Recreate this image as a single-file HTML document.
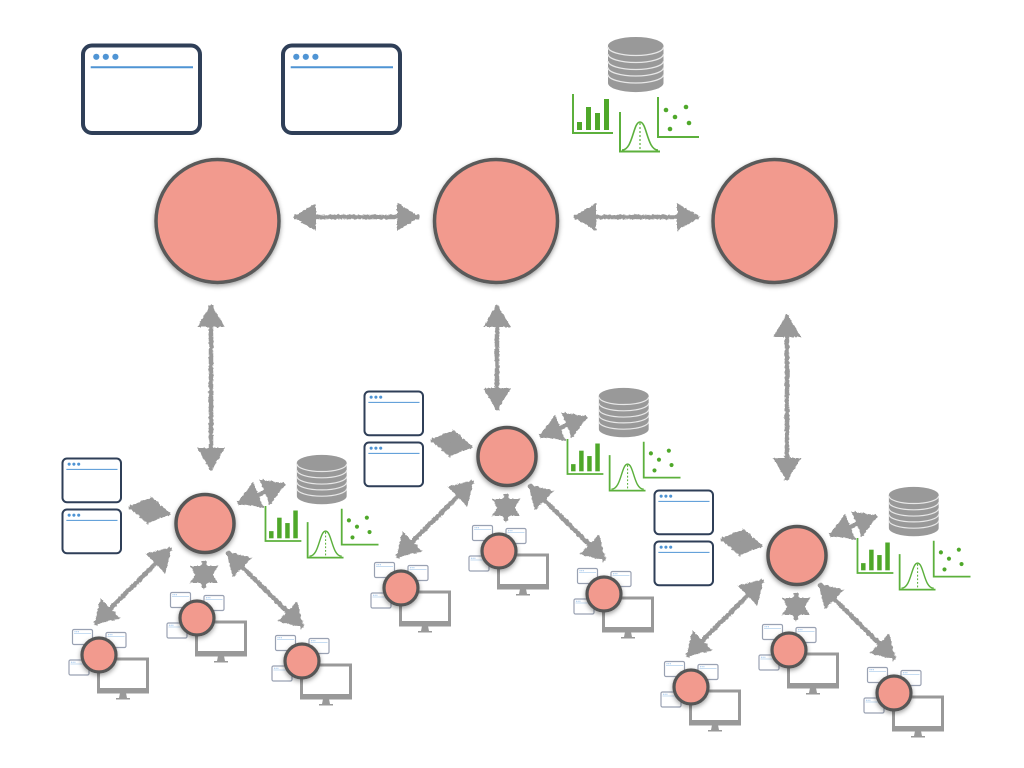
<!DOCTYPE html>
<html>
<head>
<meta charset="utf-8">
<title>Diagram</title>
<style>
html,body{margin:0;padding:0;background:#fff;width:1024px;height:768px;overflow:hidden}
svg{display:block}
</style>
</head>
<body>
<svg xmlns="http://www.w3.org/2000/svg" width="1024" height="768" viewBox="0 0 1024 768">
<defs>
  <filter id="rough" filterUnits="userSpaceOnUse" x="0" y="0" width="1024" height="768">
    <feTurbulence type="fractalNoise" baseFrequency="0.35" numOctaves="2" seed="4"/>
    <feDisplacementMap in="SourceGraphic" scale="3" xChannelSelector="R" yChannelSelector="G"/>
  </filter>
  <filter id="sh" x="-25%" y="-25%" width="150%" height="150%">
    <feDropShadow dx="0" dy="2" stdDeviation="2.500" flood-color="#000" flood-opacity="0.38"/>
  </filter>
  <marker id="head" markerUnits="userSpaceOnUse" markerWidth="34" markerHeight="34" viewBox="-4 -17 34 34" refX="21" refY="0" orient="auto-start-reverse">
    <path d="M-1,-14 L22,0 L-1,14 Z" fill="#999"/>
  </marker>

  <g id="win">
    <rect x="2" y="2" width="117" height="87.500" rx="9" fill="#fff" stroke="#2f3f58" stroke-width="4"/>
    <circle cx="15.300" cy="13.300" r="3.100" fill="#4f94d4"/>
    <circle cx="24.800" cy="13.300" r="3.100" fill="#4f94d4"/>
    <circle cx="34.400" cy="13.300" r="3.100" fill="#4f94d4"/>
    <line x1="9.700" y1="23.700" x2="112" y2="23.700" stroke="#4f94d4" stroke-width="2"/>
  </g>

  <g id="data">
    <path d="M608,46 V83 A27.500,9 0 0 0 663.500,83 V46 Z" fill="#999"/>
    <ellipse cx="635.700" cy="46" rx="27.800" ry="9" fill="#999"/>
    <g fill="none" stroke="#e8e8e8" stroke-width="1.300">
      <path d="M608,47 A27.700,8.500 0 0 0 663.500,47"/>
      <path d="M608,54 A27.700,8.500 0 0 0 663.500,54"/>
      <path d="M608,61 A27.700,8.500 0 0 0 663.500,61"/>
      <path d="M608,67.500 A27.700,8.500 0 0 0 663.500,67.500"/>
      <path d="M608,74.500 A27.700,8.500 0 0 0 663.500,74.500"/>
    </g>
    <g fill="none" stroke="#5cb03c" stroke-width="2">
      <path d="M573,94 V133 H613"/>
      <path d="M620,112 V151.500 H660"/>
      <path d="M658,97 V137 H699"/>
      <path d="M622,150 C633,150 633,122 640,122 C647,122 647,150 658,150" stroke-width="1.600"/>
      <line x1="640" y1="123" x2="640" y2="150" stroke-width="1.200" stroke-dasharray="2 2"/>
    </g>
    <g fill="#4fa82a">
      <rect x="577" y="122" width="5" height="8"/>
      <rect x="586" y="107" width="5" height="23"/>
      <rect x="595" y="113" width="5" height="17"/>
      <rect x="604" y="99" width="5" height="31"/>
      <circle cx="666" cy="110" r="2.300"/>
      <circle cx="675" cy="117" r="2.300"/>
      <circle cx="686" cy="107" r="2.300"/>
      <circle cx="689" cy="123" r="2.300"/>
      <circle cx="670" cy="129" r="2.300"/>
    </g>
  </g>

  <g id="miniwin">
    <rect x="0" y="0" width="20" height="15" rx="1.500" fill="#fff" stroke="#99a1b2" stroke-width="1.200"/>
    <line x1="1.500" y1="4" x2="18.500" y2="4" stroke="#b5d2ee" stroke-width="0.800"/>
    <circle cx="2.500" cy="2.200" r="0.600" fill="#a5c8ec"/>
    <circle cx="4.200" cy="2.200" r="0.600" fill="#a5c8ec"/>
    <circle cx="5.900" cy="2.200" r="0.600" fill="#a5c8ec"/>
  </g>

  <g id="client">
    <rect x="-0.500" y="4" width="49" height="31.500" fill="#fff" stroke="#999" stroke-width="3"/>
    <rect x="-2" y="33" width="52" height="5.500" fill="#999"/>
    <path d="M21,38 H27 L28,43 H31 V44.500 H17 V43 H20 Z" fill="#999"/>
    <use href="#miniwin" x="-26.500" y="-25.500"/>
    <use href="#miniwin" x="7" y="-22.500"/>
    <use href="#miniwin" x="-30" y="5"/>
    <circle cx="0" cy="0" r="17" fill="#f29a8e" stroke="#565656" stroke-width="3.200" filter="url(#sh)"/>
  </g>

  <g id="cluster">
    <use href="#win" transform="translate(61.500,457.500) scale(0.5)"/>
    <use href="#win" transform="translate(61.500,508.500) scale(0.5)"/>
    <use href="#data" transform="translate(-248.500,421.700) scale(0.897)"/>
    <use href="#client" x="99" y="655"/>
    <use href="#client" x="197" y="618"/>
    <use href="#client" x="302" y="661"/>
    <g filter="url(#rough)" stroke="#999" stroke-width="4.500" fill="none">
      <line x1="129" y1="507" x2="170" y2="514" marker-start="url(#head)" marker-end="url(#head)"/>
      <line x1="238" y1="503" x2="285" y2="484" marker-start="url(#head)" marker-end="url(#head)"/>
      <line x1="171" y1="548" x2="95" y2="624" marker-start="url(#head)" marker-end="url(#head)"/>
      <line x1="227" y1="552" x2="303" y2="627" marker-start="url(#head)" marker-end="url(#head)"/>
      <line x1="204" y1="561" x2="204" y2="588" marker-start="url(#head)" marker-end="url(#head)"/>
    </g>
    <circle cx="205" cy="523.500" r="29" fill="#f29a8e" stroke="#565656" stroke-width="3.500" filter="url(#sh)"/>
  </g>
</defs>

<rect width="1024" height="768" fill="#fff"/>

<use href="#win" x="81" y="43.500"/>
<use href="#win" x="281" y="43.500"/>
<use href="#data"/>

<g filter="url(#rough)" stroke="#999" stroke-width="4.500" fill="none">
  <line x1="294" y1="217" x2="419" y2="217" marker-start="url(#head)" marker-end="url(#head)"/>
  <line x1="574" y1="217" x2="699" y2="217" marker-start="url(#head)" marker-end="url(#head)"/>
  <line x1="211" y1="305" x2="211" y2="470" marker-start="url(#head)" marker-end="url(#head)"/>
  <line x1="497" y1="305" x2="497" y2="410" marker-start="url(#head)" marker-end="url(#head)"/>
  <line x1="787" y1="315" x2="787" y2="480" marker-start="url(#head)" marker-end="url(#head)"/>
</g>

<circle cx="217.500" cy="221" r="61.500" fill="#f29a8e" stroke="#5a5a5a" stroke-width="3.500" filter="url(#sh)"/>
<circle cx="496" cy="221" r="61.500" fill="#f29a8e" stroke="#5a5a5a" stroke-width="3.500" filter="url(#sh)"/>
<circle cx="774.500" cy="221" r="61.500" fill="#f29a8e" stroke="#5a5a5a" stroke-width="3.500" filter="url(#sh)"/>

<use href="#cluster"/>
<use href="#cluster" x="302" y="-67"/>
<use href="#cluster" x="592" y="32"/>
</svg>
</body>
</html>
